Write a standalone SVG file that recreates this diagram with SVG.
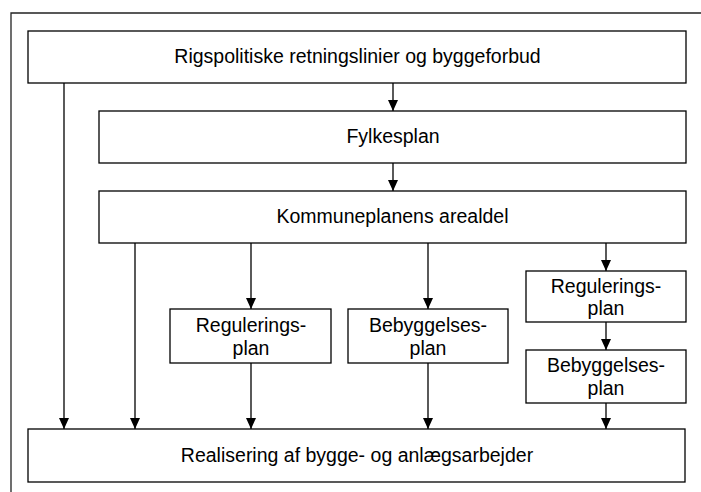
<svg xmlns="http://www.w3.org/2000/svg" width="701" height="492" viewBox="0 0 701 492">
<defs>
<style>
.box{fill:#fff;stroke:#000;stroke-width:1.3}
.frame{fill:none;stroke:#222;stroke-width:1.3}
.t{font-family:"Liberation Sans",Arial,sans-serif;font-size:19.5px;fill:#000;text-anchor:middle}
.c{fill:none;stroke:#000;stroke-width:1.3;marker-end:url(#ah)}
</style>
<marker id="ah" viewBox="0 -6 12 12" refX="11" refY="0" markerWidth="12" markerHeight="12" markerUnits="userSpaceOnUse" orient="auto">
<path d="M0,-5 L11,0 L0,5 z" fill="#000"/>
</marker>
</defs>
<rect width="701" height="492" fill="#fff"/>
<path class="frame" d="M11,492 V13 H701"/>
<g id="connectors">
<line class="c" x1="393" y1="83" x2="393" y2="111"/>
<line class="c" x1="393" y1="163" x2="393" y2="191"/>
<line class="c" x1="64" y1="83" x2="64" y2="429"/>
<line class="c" x1="135" y1="243" x2="135" y2="429"/>
<line class="c" x1="251" y1="243" x2="251" y2="309"/>
<line class="c" x1="251" y1="363" x2="251" y2="429"/>
<line class="c" x1="428" y1="243" x2="428" y2="309"/>
<line class="c" x1="428" y1="363" x2="428" y2="429"/>
<line class="c" x1="606" y1="243" x2="606" y2="271"/>
<line class="c" x1="606" y1="322" x2="606" y2="350"/>
<line class="c" x1="606" y1="403" x2="606" y2="429"/>
</g>
<g id="rigspolitiske">
<rect class="box" x="28" y="31" width="658" height="52"/>
<text class="t" x="357.5" y="63">Rigspolitiske retningslinier og byggeforbud</text>
</g>
<g id="fylkesplan">
<rect class="box" x="99" y="111" width="587" height="52"/>
<text class="t" x="393" y="143">Fylkesplan</text>
</g>
<g id="kommuneplan">
<rect class="box" x="99" y="191" width="587" height="52"/>
<text class="t" x="392.5" y="223">Kommuneplanens arealdel</text>
</g>
<g id="regulering1">
<rect class="box" x="170" y="309" width="161" height="54"/>
<text class="t" x="251" y="331.5">Regulerings-</text>
<text class="t" x="251" y="354.5">plan</text>
</g>
<g id="bebyggelse1">
<rect class="box" x="348" y="309" width="160" height="54"/>
<text class="t" x="428" y="331.5">Bebyggelses-</text>
<text class="t" x="428" y="354.5">plan</text>
</g>
<g id="regulering2">
<rect class="box" x="526" y="271" width="160" height="51"/>
<text class="t" x="606" y="292.5">Regulerings-</text>
<text class="t" x="606" y="314.5">plan</text>
</g>
<g id="bebyggelse2">
<rect class="box" x="526" y="350" width="160" height="53"/>
<text class="t" x="606" y="372">Bebyggelses-</text>
<text class="t" x="606" y="394.5">plan</text>
</g>
<g id="realisering">
<rect class="box" x="28" y="429" width="657" height="53"/>
<text class="t" x="357" y="461.5">Realisering af bygge- og anlægsarbejder</text>
</g>
</svg>
